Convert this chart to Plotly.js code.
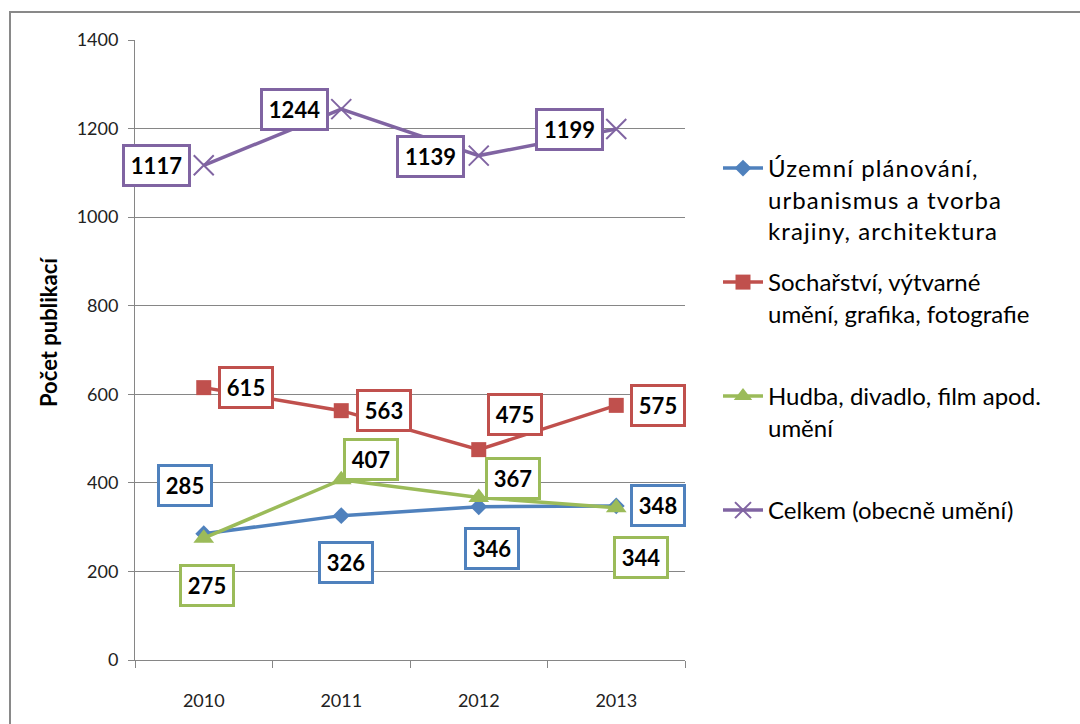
<!DOCTYPE html>
<html>
<head>
<meta charset="utf-8">
<script src="https://cdn.plot.ly/plotly-3.0.1.min.js"></script>
<style>html,body{margin:0;padding:0;background:#fff;}#chart{width:1080px;height:724px;}.legendtext{letter-spacing:1.1px;}</style>
</head>
<body>
<div id="chart"></div>
<script>
// ---- data ----
const years = ['2010', '2011', '2012', '2013'];
const uzemni = [285, 326, 346, 348];
const socharstvi = [615, 563, 475, 575];
const hudba = [275, 407, 367, 344];
const celkem = [1117, 1244, 1139, 1199];
const seriesNames = [
  'Územní plánování,<br>urbanismus a tvorba<br>krajiny, architektura',
  'Sochařství, výtvarné<br>umění, grafika, fotografie',
  'Hudba, divadlo, film apod.<br>umění',
  'Celkem (obecně umění)'
];
const yTitle = 'Počet publikací';

// ---- label offsets (pixels, x right / y up) ----
const offUzemniX = [-19, 5, 13, 42];
const offUzemniY = [48, -47, -42, 0];
const offSocharstviX = [42, 43, 36, 42];
const offSocharstviY = [0, 0, 35, 0];
const offHudbaX = [3, 30, 34, 25];
const offHudbaY = [-47, 20, 19, -50];
const offCelkemX = [-47, -47, -48, -47];
const offCelkemY = [0, 0, -1, 0];

const colors = ['#4F81BD', '#C0504D', '#9BBB59', '#8064A2'];
const FONT = 'Lato, "Open Sans", sans-serif';

const allValues = [uzemni, socharstvi, hudba, celkem];
const markers = [
  {symbol: 'diamond', size: 13},
  {symbol: 'square', size: 15},
  {symbol: 'triangle-up', size: 18},
  {symbol: 'x-thin-open', size: 20}
];
const legendIds = ['legend', 'legend2', 'legend3', 'legend4'];

const traces = allValues.map((vals, i) => ({
  type: 'scatter',
  mode: 'lines+markers',
  x: years,
  y: vals,
  name: seriesNames[i],
  legend: legendIds[i],
  line: {color: colors[i], width: 3.5},
  marker: Object.assign({color: colors[i], line: {color: colors[i], width: i === 3 ? 2 : 0}}, markers[i]),
  cliponaxis: false
}));

const offsX = [offUzemniX, offSocharstviX, offHudbaX, offCelkemX];
const offsY = [offUzemniY, offSocharstviY, offHudbaY, offCelkemY];
const annotations = [];
allValues.forEach((vals, i) => {
  vals.forEach((v, j) => {
    const txt = String(v);
    annotations.push({
      x: j, y: v, xref: 'x', yref: 'y',   // x = category index of years[j]
      text: '<b>' + txt + '</b>',
      showarrow: false,
      xshift: offsX[i][j], yshift: offsY[i][j],
      font: {family: FONT, size: 22, color: '#000'},
      bgcolor: '#ffffff',
      bordercolor: colors[i],
      borderwidth: 3,
      borderpad: 2,
      width: txt.length === 4 ? 59 : 46,
      height: 33
    });
  });
});

// y axis title (placed like the original, slightly above the plot centre)
annotations.push({
  xref: 'paper', yref: 'paper',
  x: (48 - 135) / 550, y: (660 - 332) / 620,
  xanchor: 'center', yanchor: 'middle',
  text: '<b>' + yTitle + '</b>',
  textangle: -90,
  showarrow: false,
  font: {family: FONT, size: 22, color: '#000'}
});

// legend item tops (px from top)
const legendTops = [146, 260, 374, 488];
const legendLayouts = {};
legendIds.forEach((id, i) => {
  legendLayouts[id] = {
    xref: 'container', yref: 'container',
    x: 718 / 1080, y: 1 - legendTops[i] / 724,
    xanchor: 'left', yanchor: 'top',
    valign: 'top',
    bgcolor: 'rgba(0,0,0,0)',
    borderwidth: 0,
    font: {family: FONT, size: 24, color: '#000'},
    itemwidth: 40
  };
});

const layout = Object.assign({
  width: 1080, height: 724,
  margin: {l: 135, r: 395, t: 40, b: 64},
  paper_bgcolor: '#ffffff',
  plot_bgcolor: '#ffffff',
  showlegend: true,
  font: {family: FONT, color: '#000'},
  xaxis: {
    type: 'category',
    tickson: 'boundaries',
    ticks: 'outside', ticklen: 7, tickcolor: '#868686', tickwidth: 1,
    showline: true, linecolor: '#868686', linewidth: 1,
    showgrid: false, zeroline: false,
    tickfont: {family: FONT, size: 18, color: '#222'},
    ticklabelstandoff: 24,
    range: [-0.5, 3.5],
    fixedrange: true
  },
  yaxis: {
    range: [0, 1400], dtick: 200,
    ticks: 'outside', ticklen: 6, tickcolor: '#868686', tickwidth: 1,
    showline: true, linecolor: '#868686', linewidth: 1,
    showgrid: true, gridcolor: '#868686', gridwidth: 1,
    zeroline: false,
    tickfont: {family: FONT, size: 18, color: '#222'},
    ticklabelstandoff: 6,
    fixedrange: true
  },
  annotations: annotations,
  shapes: [{
    type: 'rect', xref: 'paper', yref: 'paper',
    x0: (10 - 135) / 550, x1: (1095 - 135) / 550,
    y0: (660 - 740) / 620, y1: (660 - 12) / 620,
    line: {color: '#898989', width: 2},
    fillcolor: 'rgba(0,0,0,0)',
    layer: 'below'
  }]
}, legendLayouts);

Plotly.newPlot('chart', traces, layout, {displayModeBar: false, staticPlot: true});
</script>
</body>
</html>
